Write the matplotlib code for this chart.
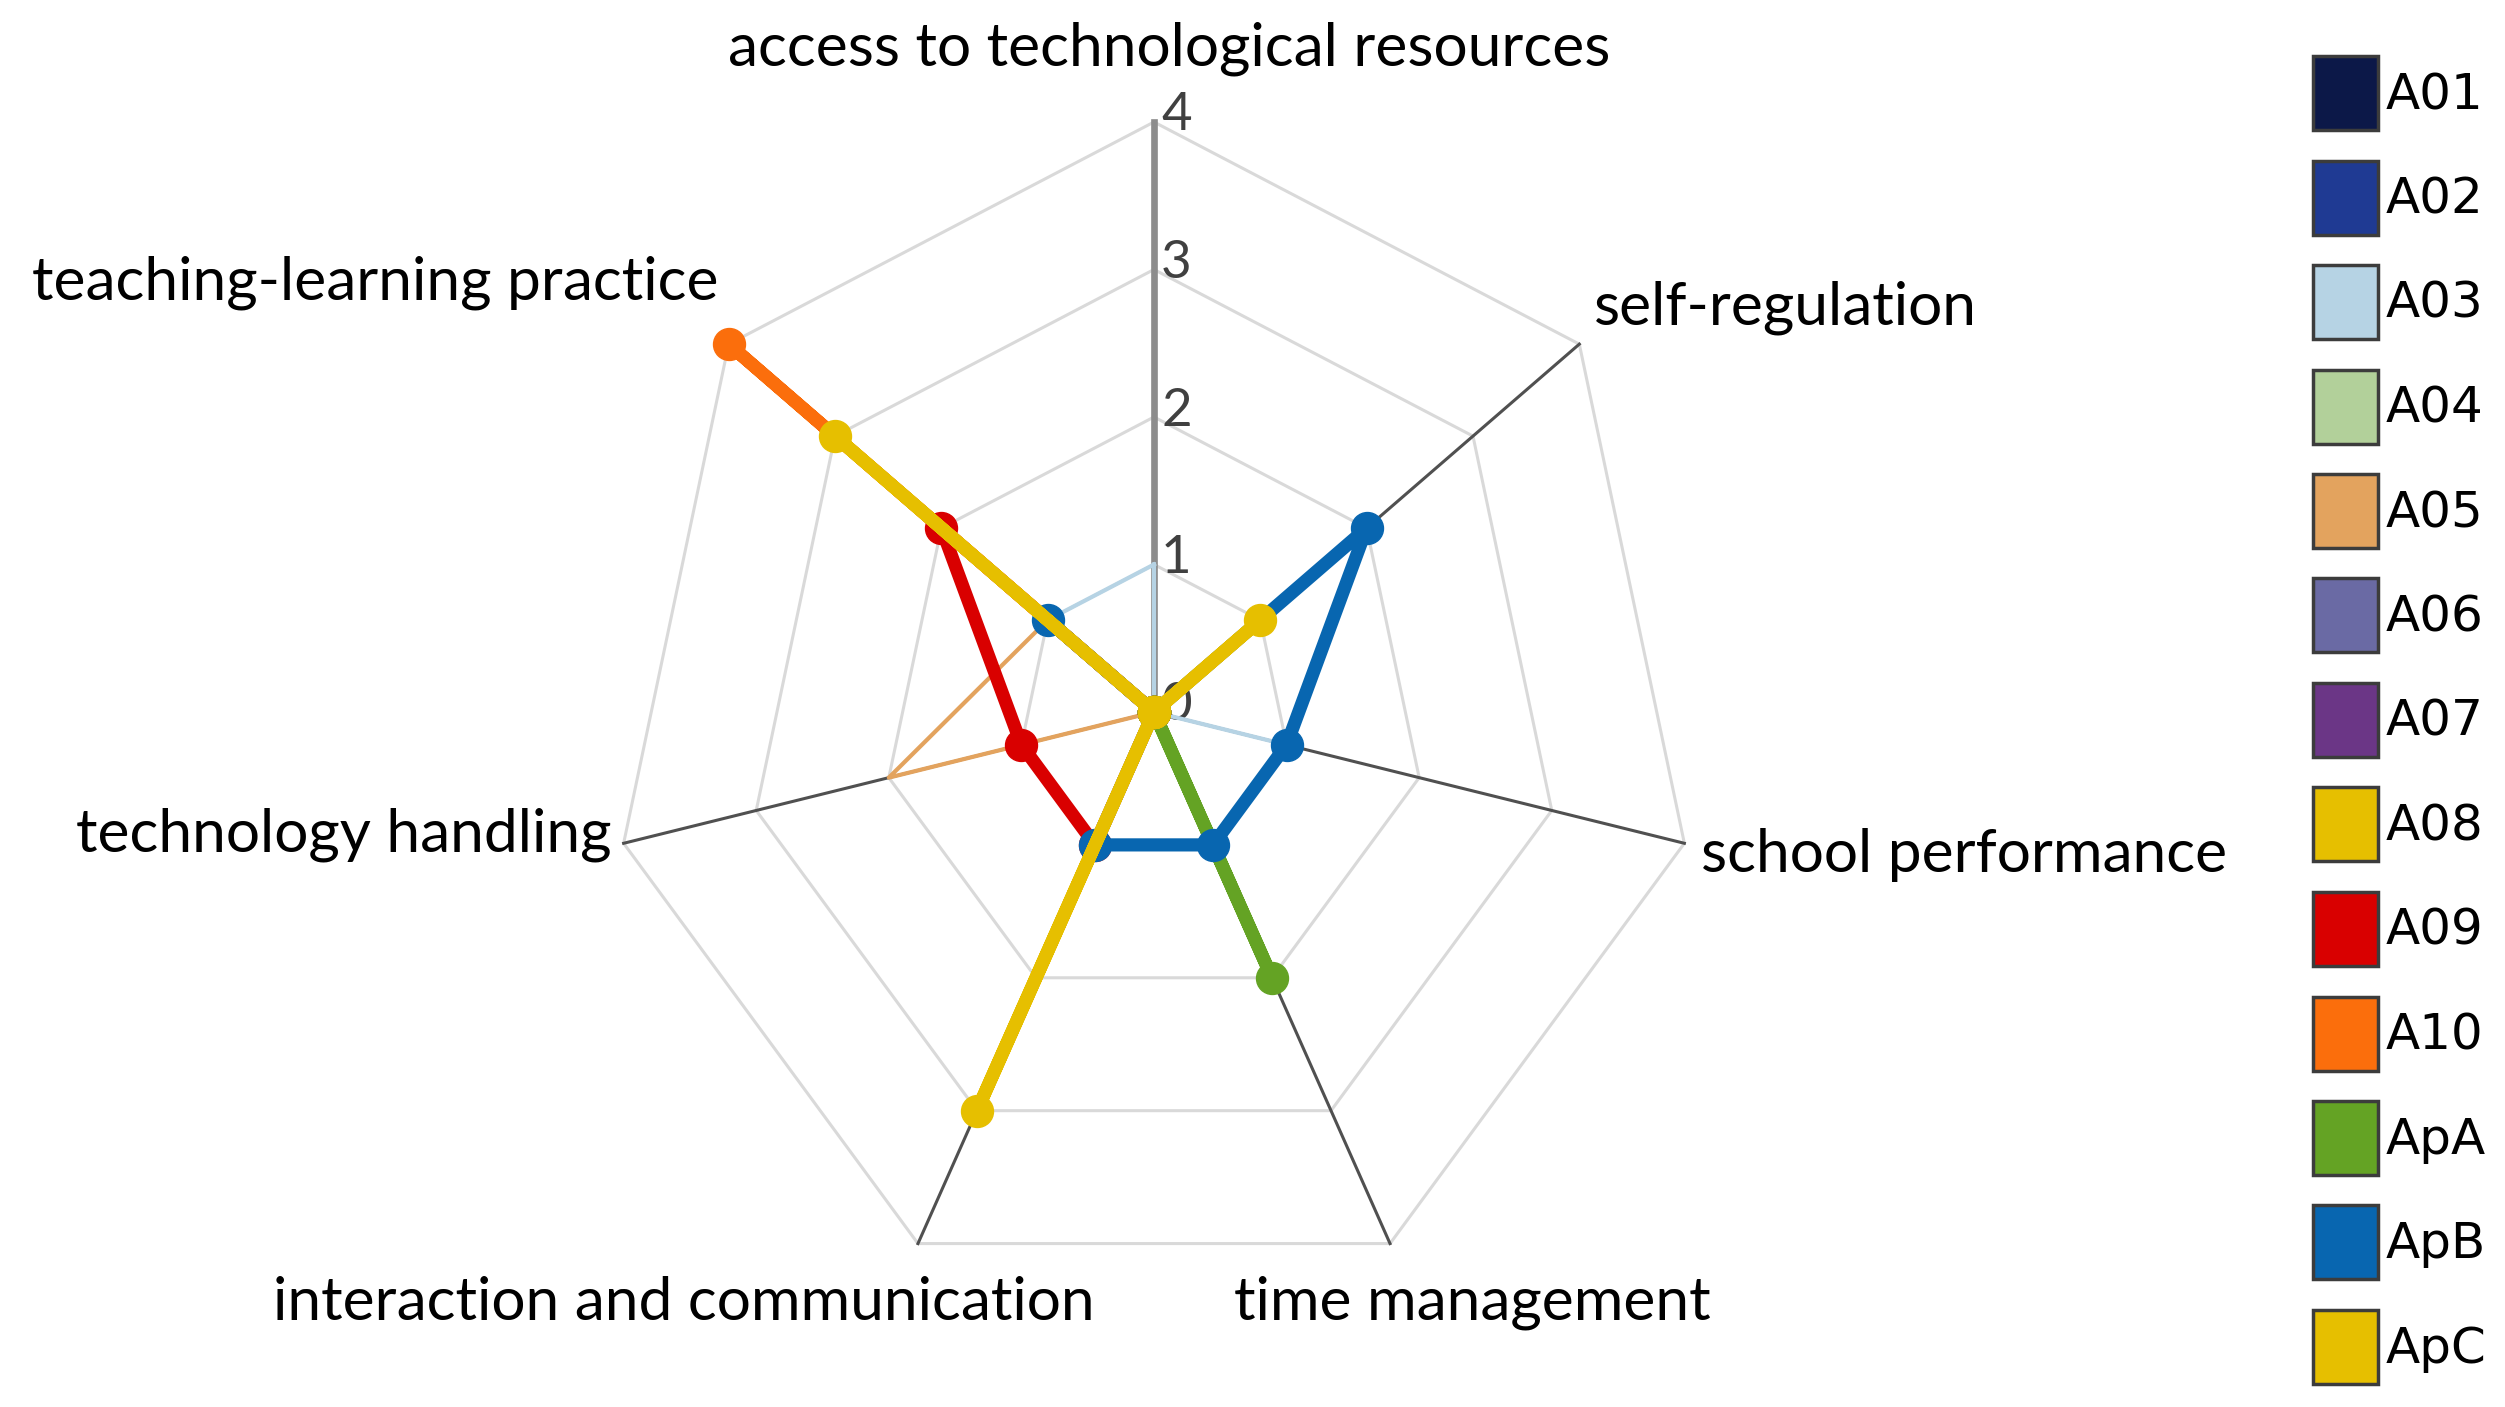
import numpy as np
import matplotlib
matplotlib.use("Agg")
import matplotlib.pyplot as plt
from matplotlib.patches import Patch

# === data ===
categories = ["access to technological resources", "self-regulation", "school performance",
              "time management", "interaction and communication", "technology handling",
              "teaching-learning practice"]
ticks = [0, 1, 2, 3, 4]

series_names = ["A01", "A02", "A03", "A04", "A05", "A06", "A07", "A08", "A09", "A10", "ApA", "ApB", "ApC"]
A01 = [0, 0, 0, 0, 0, 0, 0]
A02 = [0, 0, 0, 0, 0, 0, 0]
A03 = [1, 0, 1, 1, 1, 0, 1]
A04 = [0, 0, 0, 0, 0, 0, 0]
A05 = [0, 0, 0, 0, 0, 2, 1]
A06 = [0, 0, 0, 0, 0, 0, 0]
A07 = [0, 0, 0, 0, 0, 0, 0]
A08 = [0, 0, 0, 0, 0, 0, 0]
A09 = [0, 0, 0, 0, 1, 1, 2]
A10 = [0, 0, 0, 0, 0, 0, 4]
ApA = [0, 0, 0, 2, 0, 0, 0]
ApB = [0, 2, 1, 1, 1, 0, 1]
ApC = [0, 1, 0, 0, 3, 0, 3]
series_values = [A01, A02, A03, A04, A05, A06, A07, A08, A09, A10, ApA, ApB, ApC]

colors = ["#0c1848", "#1f3a93", "#b6d3e4", "#b2d09a", "#e3a35e", "#6a6aa4", "#6b3686",
          "#e6bf00", "#d90000", "#fb6e0c", "#64a324", "#0866b0", "#e6bf00"]
thick = ["A09", "A10", "ApA", "ApB", "ApC"]

# === layout (pixels of the 2505x1407 output) ===
W, H, DPI = 2505, 1407, 100
cx, cy = 1154, 712        # centre of the radar
ux, uy = 136, 147.5       # pixels per unit, horizontal / vertical (chart is squeezed)

fig = plt.figure(figsize=(W / DPI, H / DPI), dpi=DPI)
ax = fig.add_axes([0, 0, 1, 1])
ax.set_xlim(-cx / ux, (W - cx) / ux)
ax.set_ylim((cy - H) / uy, cy / uy)
ax.axis("off")

n = len(categories)
theta = np.arange(n) * 2 * np.pi / n
sx, sy = np.sin(theta), np.cos(theta)
rmax = ticks[-1]

# grid polygons
for t in ticks[1:]:
    ax.plot(np.append(sx, sx[0]) * t, np.append(sy, sy[0]) * t,
            color="#d9d9d9", lw=2.2, zorder=1)
# spokes
for k in range(1, n):
    ax.plot([0, sx[k] * rmax], [0, sy[k] * rmax], color="#505050", lw=2.2, zorder=1.5)
# value axis
ax.plot([0, 0], [0, rmax], color="#8c8c8c", lw=4.8, zorder=1.6)
for t in ticks:
    ax.annotate(str(t), (0, t), xytext=(7, 6), textcoords="offset pixels",
                ha="left", va="center", fontsize=38, family="Lato",
                color="#404040", zorder=1.7)

# series
for name, vals, col in zip(series_names, series_values, colors):
    v = np.array(vals + vals[:1], dtype=float)
    xs = v * np.append(sx, sx[0])
    ys = v * np.append(sy, sy[0])
    if name in thick:
        ax.plot(xs, ys, color=col, lw=9.5, marker="o", ms=23, solid_joinstyle="round",
                zorder=3)
    else:
        ax.plot(xs, ys, color=col, lw=3.0, zorder=2)

# category labels: (dx, dy) in pixels from the outer vertex, alignment
label_pos = [(15, 57, "center"), (15, 20, "left"), (17, -29, "left"), (82, -76, "center"),
             (-234, -76, "center"), (-12, -8, "right"), (-10, 45, "right")]
for k, (lab, (dx, dy, ha)) in enumerate(zip(categories, label_pos)):
    ax.annotate(lab, (sx[k] * rmax, sy[k] * rmax), xytext=(dx, dy),
                textcoords="offset pixels", ha=ha, va="baseline",
                fontsize=43.5, family="Lato", color="black")

handles = [Patch(facecolor=c, edgecolor="#3c3c3c", linewidth=2.5) for c in colors]
fig.legend(handles, series_names, loc="upper left",
           bbox_to_anchor=(2313 / W, 1 - 56 / H), frameon=False,
           prop={"family": "DejaVu Sans", "size": 36},
           handlelength=1.3, handleheight=1.9, labelspacing=0.61,
           handletextpad=0.15, borderpad=0, borderaxespad=0)

fig.savefig("out.png", dpi=DPI)
